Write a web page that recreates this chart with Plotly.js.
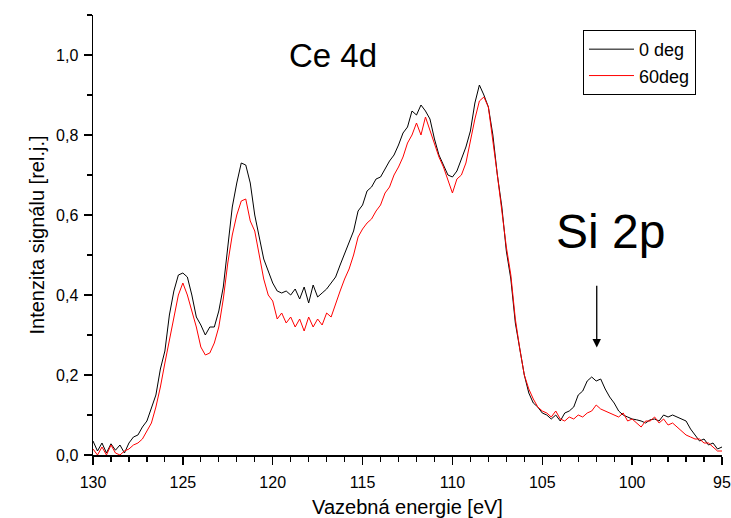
<!DOCTYPE html>
<html>
<head>
<meta charset="utf-8">
<script src="https://cdn.plot.ly/plotly-3.0.1.min.js"></script>
<style>html,body{margin:0;padding:0;background:#fff;}#chart{width:731px;height:518px;}</style>
</head>
<body>
<div id="chart"></div>
<script>
// Binding energy [eV]
const energy = [130.00,129.75,129.50,129.25,129.00,128.75,128.50,128.25,128.00,127.75,127.50,127.25,127.00,126.75,126.50,126.25,126.00,125.75,125.50,125.25,125.00,124.75,124.50,124.25,124.00,123.75,123.50,123.25,123.00,122.75,122.50,122.25,122.00,121.75,121.50,121.25,121.00,120.75,120.50,120.25,120.00,119.75,119.50,119.25,119.00,118.75,118.50,118.25,118.00,117.75,117.50,117.25,117.00,116.75,116.50,116.25,116.00,115.75,115.50,115.25,115.00,114.75,114.50,114.25,114.00,113.75,113.50,113.25,113.00,112.75,112.50,112.25,112.00,111.75,111.50,111.25,111.00,110.75,110.50,110.25,110.00,109.75,109.50,109.25,109.00,108.75,108.50,108.25,108.00,107.75,107.50,107.25,107.00,106.75,106.50,106.25,106.00,105.75,105.50,105.25,105.00,104.75,104.50,104.25,104.00,103.75,103.50,103.25,103.00,102.75,102.50,102.25,102.00,101.75,101.50,101.25,101.00,100.75,100.50,100.25,100.00,99.75,99.50,99.25,99.00,98.75,98.50,98.25,98.00,97.75,97.50,97.25,97.00,96.75,96.50,96.25,96.00,95.75,95.50,95.25,95.00];

// 0 deg intensity
const deg0 = [0.035,0.010,0.030,0.005,0.028,0.012,0.025,0.005,0.030,0.045,0.050,0.070,0.085,0.115,0.150,0.215,0.260,0.350,0.410,0.450,0.455,0.445,0.400,0.345,0.325,0.300,0.320,0.320,0.360,0.420,0.515,0.620,0.680,0.730,0.725,0.680,0.600,0.540,0.490,0.460,0.430,0.410,0.405,0.410,0.400,0.415,0.390,0.420,0.380,0.425,0.395,0.405,0.415,0.430,0.445,0.475,0.505,0.530,0.560,0.610,0.625,0.660,0.670,0.690,0.695,0.715,0.735,0.750,0.775,0.805,0.820,0.860,0.850,0.875,0.860,0.840,0.790,0.750,0.725,0.700,0.695,0.710,0.740,0.770,0.810,0.880,0.925,0.900,0.870,0.800,0.700,0.620,0.510,0.440,0.330,0.260,0.200,0.155,0.130,0.120,0.105,0.100,0.090,0.100,0.085,0.105,0.110,0.120,0.150,0.160,0.185,0.195,0.185,0.190,0.165,0.145,0.130,0.110,0.100,0.095,0.090,0.088,0.085,0.080,0.088,0.090,0.085,0.100,0.095,0.100,0.095,0.090,0.085,0.065,0.050,0.035,0.040,0.025,0.030,0.015,0.020];

// 60 deg intensity
const deg60 = [0.015,0.000,0.020,0.000,0.025,0.005,0.000,0.010,0.015,0.025,0.030,0.040,0.060,0.080,0.120,0.170,0.230,0.290,0.350,0.400,0.430,0.400,0.360,0.320,0.270,0.250,0.255,0.280,0.320,0.390,0.480,0.550,0.600,0.635,0.640,0.585,0.560,0.500,0.440,0.400,0.385,0.340,0.355,0.330,0.345,0.320,0.340,0.310,0.345,0.320,0.340,0.325,0.355,0.345,0.380,0.410,0.440,0.465,0.500,0.545,0.565,0.580,0.590,0.610,0.625,0.655,0.670,0.700,0.720,0.745,0.780,0.800,0.830,0.800,0.845,0.810,0.775,0.745,0.720,0.690,0.655,0.690,0.700,0.730,0.790,0.840,0.885,0.895,0.870,0.790,0.700,0.610,0.520,0.450,0.340,0.265,0.200,0.165,0.140,0.120,0.110,0.105,0.095,0.110,0.090,0.085,0.095,0.090,0.100,0.095,0.105,0.110,0.125,0.115,0.110,0.105,0.100,0.095,0.105,0.085,0.090,0.080,0.070,0.085,0.085,0.095,0.080,0.090,0.075,0.080,0.070,0.060,0.050,0.045,0.040,0.040,0.030,0.030,0.020,0.010,0.010];

const seriesNames = ['0 deg', '60deg'];
const yTickVals = [0.0, 0.2, 0.4, 0.6, 0.8, 1.0];
const yTickText = ['0,0', '0,2', '0,4', '0,6', '0,8', '1,0'];
const xTickVals = [130, 125, 120, 115, 110, 105, 100, 95];

const FONT = 'Liberation Sans, Arial, sans-serif';

const traces = [
  {x: energy, y: deg0, name: seriesNames[0], mode: 'lines', line: {color: '#000000', width: 1}},
  {x: energy, y: deg60, name: seriesNames[1], mode: 'lines', line: {color: '#ff0000', width: 1}}
];

const layout = {
  width: 731, height: 518,
  margin: {l: 93, r: 9, t: 15, b: 63, pad: 0},
  paper_bgcolor: '#ffffff', plot_bgcolor: '#ffffff',
  font: {family: FONT, color: '#000', size: 16},
  showlegend: true,
  legend: {
    x: 0.779, y: 0.966, xanchor: 'left', yanchor: 'top',
    bgcolor: '#ffffff', bordercolor: '#000', borderwidth: 1,
    font: {family: FONT, size: 18, color: '#000'},
    tracegroupgap: 0, itemwidth: 45
  },
  xaxis: {
    range: [130, 95], showgrid: false, zeroline: false,
    showline: true, linecolor: '#000', linewidth: 1.5,
    ticks: 'outside', ticklen: 8, tickwidth: 1.5, tickcolor: '#000',
    tickvals: xTickVals, ticktext: xTickVals.map(String),
    tickfont: {family: FONT, size: 16}, ticklabelstandoff: 4,
    minor: {dtick: 1, ticks: 'outside', ticklen: 5, tickwidth: 1.2, tickcolor: '#000', showgrid: false},
    title: {text: 'Vazebná energie [eV]', font: {family: FONT, size: 20}, standoff: 10}
  },
  yaxis: {
    range: [0, 1.1], showgrid: false, zeroline: false,
    showline: true, linecolor: '#000', linewidth: 1.5,
    ticks: 'outside', ticklen: 8, tickwidth: 1.5, tickcolor: '#000',
    tickvals: yTickVals, ticktext: yTickText,
    tickfont: {family: FONT, size: 16}, ticklabelstandoff: 2,
    minor: {dtick: 0.1, ticks: 'outside', ticklen: 5, tickwidth: 1.2, tickcolor: '#000', showgrid: false},
    title: {text: 'Intenzita signálu [rel.j.]', font: {family: FONT, size: 20}, standoff: 6}
  },
  annotations: [
    {x: 116.64, y: 1.0, xref: 'x', yref: 'y', text: 'Ce 4d', showarrow: false,
     font: {family: FONT, size: 33, color: '#000'}, xanchor: 'center', yanchor: 'middle'},
    {x: 101.23, y: 0.56, xref: 'x', yref: 'y', text: 'Si 2p', showarrow: false,
     font: {family: FONT, size: 48, color: '#000'}, xanchor: 'center', yanchor: 'middle'},
    {x: 101.97, y: 0.269, ax: 101.97, ay: 0.427, xref: 'x', yref: 'y', axref: 'x', ayref: 'y',
     text: '', showarrow: true, arrowhead: 2, arrowsize: 1.3, arrowwidth: 1.3, arrowcolor: '#000'}
  ]
};

Plotly.newPlot('chart', traces, layout, {displayModeBar: false, staticPlot: true});
</script>
</body>
</html>
